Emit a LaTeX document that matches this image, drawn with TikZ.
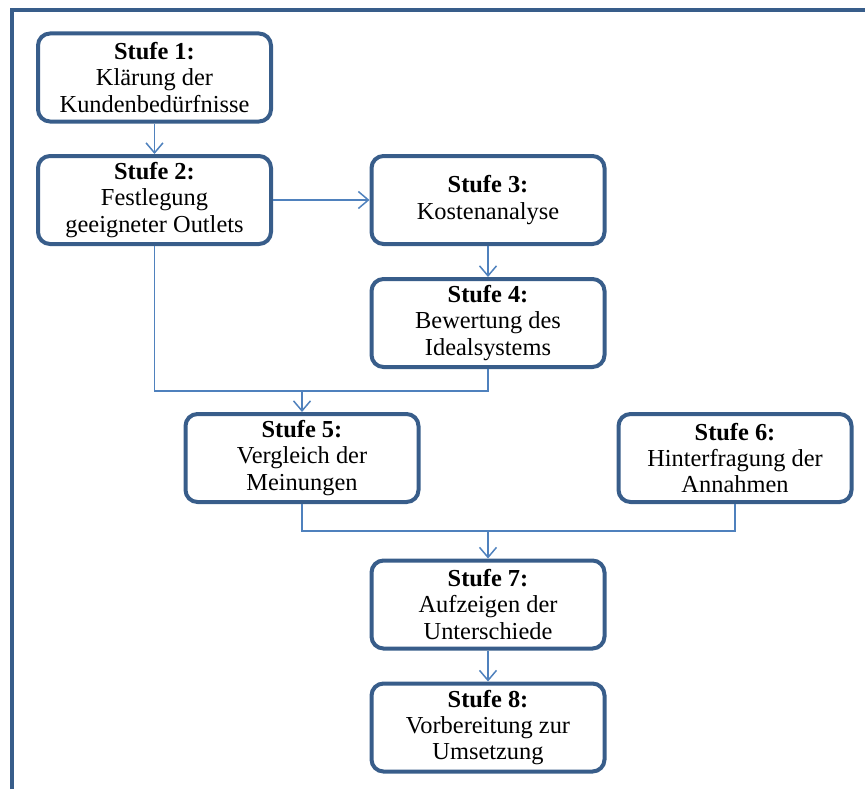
\documentclass[tikz,border=0pt]{standalone}
\usepackage{fontspec}
\setmainfont{Liberation Serif}
\usetikzlibrary{arrows.meta}
\definecolor{boxline}{HTML}{385D8A}
\definecolor{linkline}{HTML}{4F81BD}

\begin{document}
\begin{tikzpicture}[
  x=0.5pt,y=0.5pt,
  stufe/.style={draw=boxline,line width=2pt,rounded corners=6pt,fill=white,align=center,
    minimum width=116.5pt,minimum height=44pt,inner sep=2pt,font=\fontsize{12.2}{13.2}\selectfont},
  link/.style={draw=linkline,line width=0.75pt},
  arrow/.style={link,-{Straight Barb[length=5pt,width=8.5pt,line width=0.75pt]}}
]
\useasboundingbox (0,0) rectangle (865,789);
% outer frame (cut at the page edges)
\draw[boxline,line width=2pt] (12,0) -- (12,778.5) -- (865,778.5);
\node[stufe] (s1) at (154.5,711.5) {\textbf{Stufe 1:}\\Klärung der\\Kundenbedürfnisse};
\node[stufe] (s2) at (154.5,589) {\textbf{Stufe 2:}\\Festlegung\\geeigneter Outlets};
\node[stufe] (s3) at (488,589) {\textbf{Stufe 3:}\\Kostenanalyse};
\node[stufe] (s4) at (488,466) {\textbf{Stufe 4:}\\Bewertung des\\Idealsystems};
\node[stufe] (s5) at (302,331) {\textbf{Stufe 5:}\\Vergleich der\\Meinungen};
\node[stufe] (s6) at (735,331) {\textbf{Stufe 6:}\\Hinterfragung der\\Annahmen};
\node[stufe] (s7) at (488,184.5) {\textbf{Stufe 7:}\\Aufzeigen der\\Unterschiede};
\node[stufe] (s8) at (488,61.5) {\textbf{Stufe 8:}\\Vorbereitung zur\\Umsetzung};
\coordinate (j1) at (302,398);
\coordinate (j2) at (488,258);
\draw[arrow] (s1) -- (s2);
\draw[arrow] (s2) -- (s3);
\draw[arrow] (s3) -- (s4);
\draw[link] (s2.south) |- (j1) -| (s4.south);
\draw[arrow] (j1) -- (s5);
\draw[link] (s5.south) |- (j2) -| (s6.south);
\draw[arrow] (j2) -- (s7);
\draw[arrow] (s7) -- (s8);
\end{tikzpicture}
\end{document}
